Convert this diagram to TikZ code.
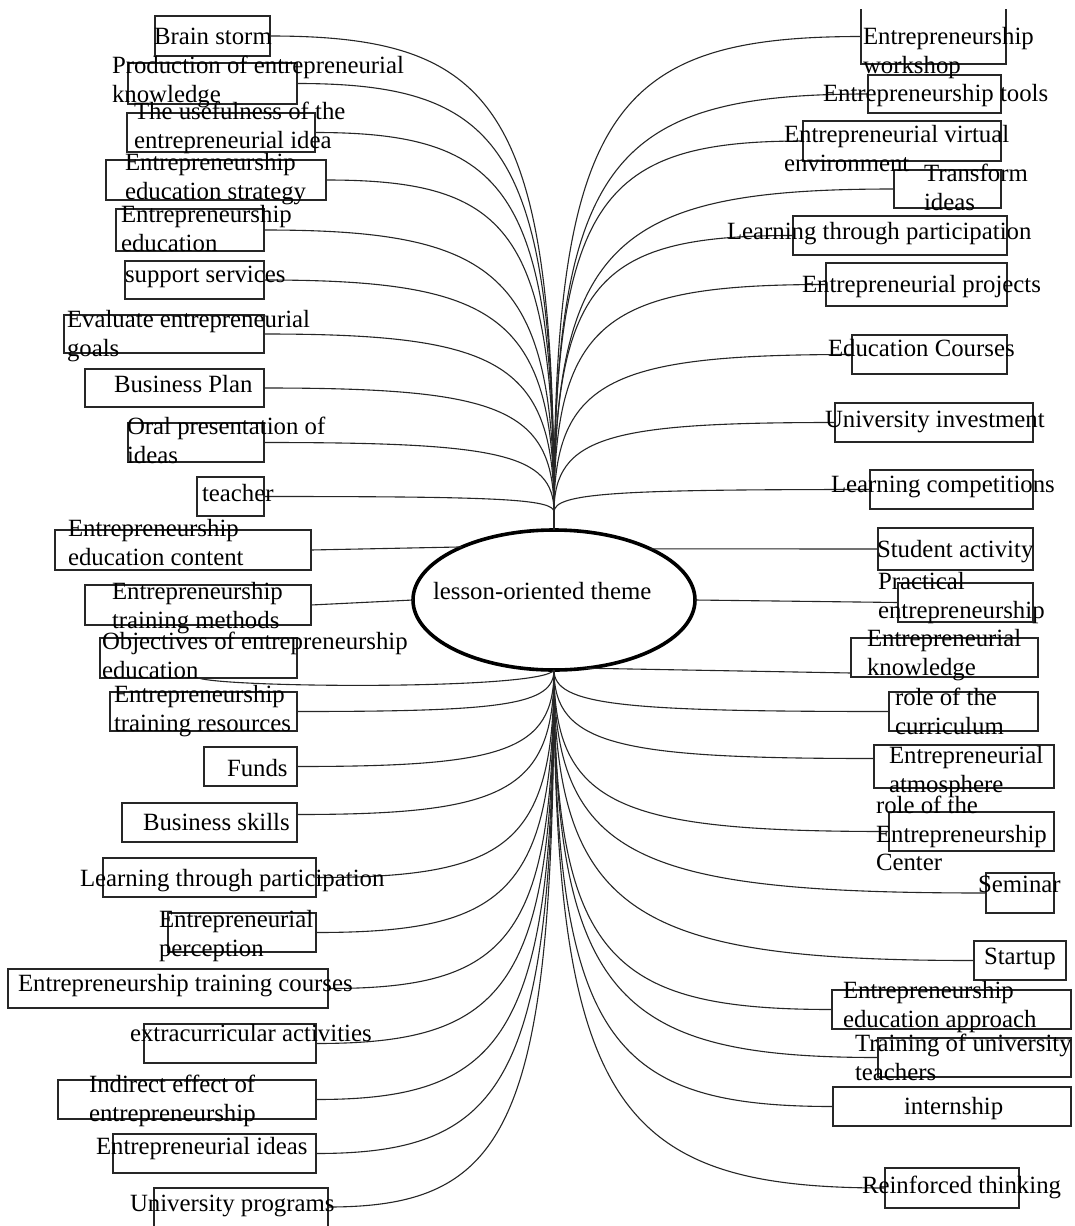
\documentclass[tikz,border=0pt]{standalone}
\usepackage{fontspec}
\setmainfont{Liberation Serif}
\usetikzlibrary{calc,shapes.geometric}
\tikzset{
  boxst/.style={draw=black!85, line width=1.1pt, rectangle, inner sep=0pt, outer sep=0pt, anchor=north west},
  txt/.style={inner sep=0pt, outer sep=0pt, anchor=north west, align=left, text=black, font=\fontsize{24.8}{28.5}\selectfont},
  cn/.style={draw=black!85, line width=1.1pt},
  ellst/.style={ellipse, draw=black, line width=3.6pt, fill=white, inner sep=0pt, outer sep=0pt}
}
\newcommand\bx[5]{\node[boxst, minimum width={(#4)-(#2)}, minimum height={(#5)-(#3)}] (#1) at (#2,#3) {};}
\newcommand\tx[4]{\node[txt] (#1) at (#2,{#3-20}) {#4};}
\newcommand\fan[2]{\draw[cn] (#1) .. controls ($(#1)!0.85!(#1 |- #2)$) and ($(#2)!0.8!(#2 -| #1)$) .. (#2);}
\begin{document}
\begin{tikzpicture}[x=1pt,y=-1pt]
\fill[white] (0,0) rectangle (1074,1226);
\useasboundingbox (0,0) rectangle (1074,1226);
% central ellipse
\node[ellst, minimum width=282, minimum height=140] (ell) at (554,600) {};
\coordinate (topst) at ($(ell.north)+(0,-18)$);
\coordinate (botst) at (ell.south);
% left boxes
\bx{l1}{155}{16}{270}{56}
\bx{l2}{128}{63}{297}{104}
\bx{l3}{127}{113}{315}{152}
\bx{l4}{106}{160}{326}{200}
\bx{l5}{116}{209}{264}{251}
\bx{l6}{125}{261}{264}{299}
\bx{l7}{64}{315}{264}{353}
\bx{l8}{85}{369}{264}{407}
\bx{l9}{128}{423}{264}{462}
\bx{l10}{197}{477}{264}{516}
\bx{l11}{55}{530}{311}{570}
\bx{l12}{85}{585}{311}{625}
\bx{l13}{100}{638}{297}{678}
\bx{l14}{110}{692}{297}{731}
\bx{l15}{204}{747}{297}{786}
\bx{l16}{122}{803}{297}{842}
\bx{l17}{103}{858}{316}{897}
\bx{l18}{168}{913}{316}{952}
\bx{l19}{8}{969}{328}{1008}
\bx{l20}{144}{1024}{316}{1063}
\bx{l21}{58}{1080}{316}{1119}
\bx{l22}{113}{1134}{316}{1173}
\bx{l23}{154}{1188}{328}{1232}
% right boxes
\node[boxst, draw=none, minimum width=145, minimum height=55] (r1) at (861,9) {};
\draw[black!85, line width=1.1pt] (r1.north west) -- (r1.south west) -- (r1.south east) -- (r1.north east);
\bx{r2}{868}{75}{1001}{113}
\bx{r3}{803}{121}{1001}{161}
\bx{r4}{894}{170}{1001}{208}
\bx{r5}{793}{216}{1007}{255}
\bx{r6}{826}{263}{1007}{306}
\bx{r7}{852}{335}{1007}{374}
\bx{r8}{835}{403}{1033}{442}
\bx{r9}{870}{470}{1033}{509}
\bx{r10}{878}{528}{1033}{570}
\bx{r11}{898}{583}{1033}{622}
\bx{r12}{851}{638}{1038}{677}
\bx{r13}{889}{692}{1038}{731}
\bx{r14}{874}{745}{1054}{788}
\bx{r15}{889}{812}{1054}{851}
\bx{r16}{986}{873}{1054}{913}
\bx{r17}{974}{941}{1066}{980}
\bx{r18}{832}{990}{1071}{1029}
\bx{r19}{878}{1038}{1071}{1077}
\bx{r20}{833}{1087}{1071}{1126}
\bx{r21}{885}{1168}{1019}{1208}
% special connector end points
\coordinate (l16e) at ($(l16.east)+(0,-8)$);
\coordinate (l23e) at ($(l23.north east)+(0,19)$);
\coordinate (r12k) at ($(r12.south west)+(0,-4)$);
\coordinate (r14w) at ($(r14.west)+(0,-8)$);
% stems
\draw[cn] (ell.north) -- (topst);
% top-left fan
\fan{topst}{l1.east}
\fan{topst}{l2.east}
\fan{topst}{l3.east}
\fan{topst}{l4.east}
\fan{topst}{l5.east}
\fan{topst}{l6.east}
\fan{topst}{l7.east}
\fan{topst}{l8.east}
\fan{topst}{l9.east}
\fan{topst}{l10.east}
% straight left
\draw[cn] (l11.east) -- (ell.150);
\draw[cn] (l12.east) -- (ell.west);
\draw[cn] (l13.south) .. controls ($(l13.south)+(30,10)$) and ($(botst)+(-10,20)$) .. (botst);
% bottom-left fan
\fan{botst}{l14.east}
\fan{botst}{l15.east}
\fan{botst}{l16e}
\fan{botst}{l17.east}
\fan{botst}{l18.east}
\fan{botst}{l19.east}
\fan{botst}{l20.east}
\fan{botst}{l21.east}
\fan{botst}{l22.east}
\fan{botst}{l23e}
% top-right fan
\fan{topst}{r1.west}
\fan{topst}{r2.west}
\fan{topst}{r3.west}
\fan{topst}{r4.west}
\fan{topst}{r5.west}
\fan{topst}{r6.west}
\fan{topst}{r7.west}
\fan{topst}{r8.west}
\fan{topst}{r9.west}
% straight right
\draw[cn] (ell.28) -- (r10.west);
\draw[cn] (ell.east) -- (r11.west);
\draw[cn] (ell.-65) -- (r12k);
% bottom-right fan
\fan{botst}{r13.west}
\fan{botst}{r14w}
\fan{botst}{r15.west}
\fan{botst}{r16.west}
\fan{botst}{r17.west}
\fan{botst}{r18.west}
\fan{botst}{r19.west}
\fan{botst}{r20.west}
\fan{botst}{r21.west}
% texts
\tx{elltxt}{433}{600}{\strut lesson-oriented theme}
\tx{t1}{154}{45}{\strut Brain storm}
\tx{t2}{112}{74}{\strut Production of entrepreneurial\\\strut knowledge}
\tx{t3}{134}{120}{\strut The usefulness of the\\\strut entrepreneurial idea}
\tx{t4}{125}{171}{\strut Entrepreneurship\\\strut education strategy}
\tx{t5}{121}{223}{\strut Entrepreneurship\\\strut education}
\tx{t6}{125}{283}{\strut support services}
\tx{t7}{67}{328}{\strut Evaluate entrepreneurial\\\strut goals}
\tx{t8}{114}{393}{\strut Business Plan}
\tx{t9}{127}{435}{\strut Oral presentation of\\\strut ideas}
\tx{t10}{202}{502}{\strut teacher}
\tx{t11}{68}{537}{\strut Entrepreneurship\\\strut education content}
\tx{t12}{112}{600}{\strut Entrepreneurship\\\strut training methods}
\tx{t13}{102}{650}{\strut Objectives of entrepreneurship\\\strut education}
\tx{t14}{114}{703}{\strut Entrepreneurship\\\strut training resources}
\tx{t15}{227}{777}{\strut Funds}
\tx{t16}{143}{831}{\strut Business skills}
\tx{t17}{80}{887}{\strut Learning through participation}
\tx{t18}{159}{928}{\strut Entrepreneurial\\\strut perception}
\tx{t19}{18}{992}{\strut Entrepreneurship training courses}
\tx{t20}{130}{1042}{\strut extracurricular activities}
\tx{t21}{89}{1093}{\strut Indirect effect of\\\strut entrepreneurship}
\tx{t22}{96}{1155}{\strut Entrepreneurial ideas}
\tx{t23}{130}{1212}{\strut University programs}
\tx{u1}{863}{45}{\strut Entrepreneurship\\\strut workshop}
\tx{u2}{823}{102}{\strut Entrepreneurship tools}
\tx{u3}{784}{143}{\strut Entrepreneurial virtual\\\strut environment}
\tx{u4}{924}{182}{\strut Transform\\\strut ideas}
\tx{u5}{727}{240}{\strut Learning through participation}
\tx{u6}{802}{293}{\strut Entrepreneurial projects}
\tx{u7}{828}{357}{\strut Education Courses}
\tx{u8}{825}{428}{\strut University investment}
\tx{u9}{831}{493}{\strut Learning competitions}
\tx{u10}{877}{558}{\strut Student activity}
\tx{u11}{878}{590}{\strut Practical\\\strut entrepreneurship}
\tx{u12}{867}{647}{\strut Entrepreneurial\\\strut knowledge}
\tx{u13}{895}{706}{\strut role of the\\\strut curriculum}
\tx{u14}{889}{764}{\strut Entrepreneurial\\\strut atmosphere}
\tx{u15}{876}{814}{\strut role of the\\\strut Entrepreneurship\\\strut Center}
\tx{u16}{978}{893}{\strut Seminar}
\tx{u17}{984}{965}{\strut Startup}
\tx{u18}{843}{999}{\strut Entrepreneurship\\\strut education approach}
\tx{u19}{855}{1052}{\strut Training of university\\\strut teachers}
\tx{u20}{904}{1115}{\strut internship}
\tx{u21}{862}{1194}{\strut Reinforced thinking}
\end{tikzpicture}
\end{document}
